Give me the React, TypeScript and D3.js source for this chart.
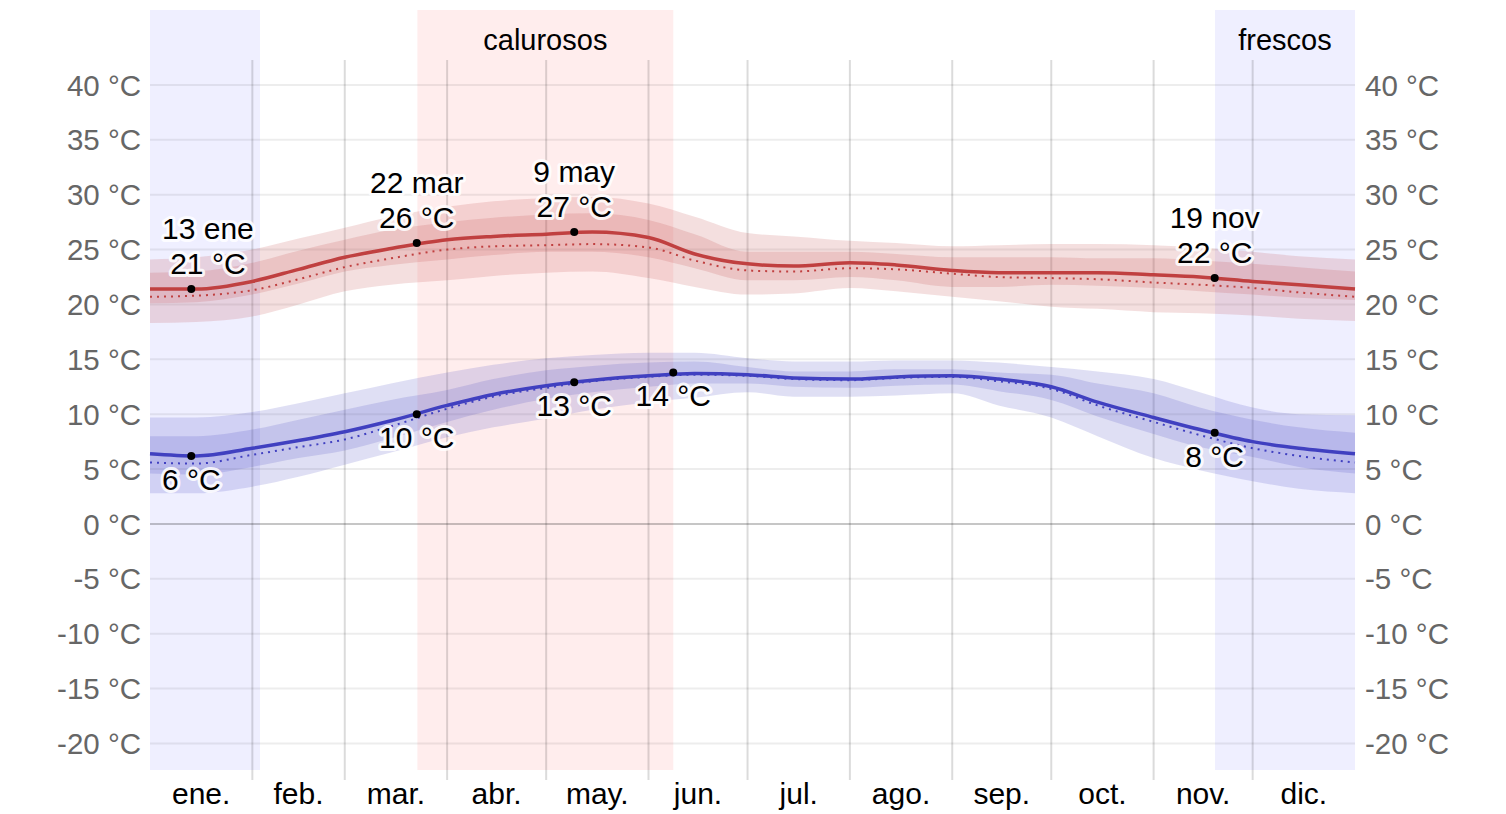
import React, { useEffect, useRef } from "react";
import * as d3 from "d3";

// day of year (0 = 1 ene) for every sample
const days = [0, 14, 31, 45, 59, 73, 90, 104, 120, 134, 151, 165, 181, 195, 212, 226, 243, 257, 273, 287, 304, 318, 334, 348, 365];

// daily high (°C)
const highAvg = [21.4, 21.4, 22.1, 23.2, 24.3, 25.1, 25.9, 26.2, 26.4, 26.6, 26.1, 24.6, 23.7, 23.5, 23.8, 23.6, 23.1, 22.9, 22.9, 22.9, 22.7, 22.5, 22.1, 21.8, 21.4];
const highMean = [20.7, 20.8, 21.3, 22.3, 23.4, 24.2, 25.0, 25.3, 25.4, 25.5, 25.2, 24.0, 23.1, 23.0, 23.3, 23.2, 22.8, 22.5, 22.4, 22.3, 22.0, 21.8, 21.5, 21.1, 20.7];
const highP75 = [22.9, 23.0, 23.8, 24.9, 25.9, 26.8, 27.5, 27.9, 28.2, 28.3, 27.7, 26.4, 24.8, 24.8, 24.8, 24.6, 24.3, 24.3, 24.3, 24.2, 24.2, 24.0, 23.7, 23.4, 23.0];
const highP25 = [20.1, 20.2, 20.9, 21.9, 23.0, 23.6, 24.1, 24.5, 24.8, 24.8, 24.3, 23.3, 22.2, 22.2, 22.5, 22.2, 21.6, 21.6, 21.8, 21.7, 21.5, 21.2, 20.9, 20.6, 20.4];
const highP90 = [24.1, 24.3, 25.0, 26.0, 27.0, 28.0, 28.9, 29.4, 29.7, 29.8, 29.2, 28.0, 26.5, 26.2, 25.8, 25.6, 25.3, 25.4, 25.5, 25.5, 25.4, 25.2, 24.8, 24.4, 24.1];
const highP10 = [18.3, 18.4, 18.9, 20.0, 21.2, 21.8, 22.2, 22.6, 22.9, 23.0, 22.4, 21.6, 20.9, 21.0, 21.5, 21.2, 20.7, 20.3, 19.8, 19.6, 19.3, 19.2, 19.0, 18.7, 18.5];

// daily low (°C)
const lowAvg = [6.4, 6.2, 6.9, 7.6, 8.4, 9.4, 10.8, 11.8, 12.6, 13.1, 13.5, 13.7, 13.6, 13.3, 13.2, 13.4, 13.5, 13.2, 12.5, 11.1, 9.7, 8.6, 7.5, 6.9, 6.4];
const lowMean = [5.6, 5.5, 6.3, 7.0, 7.7, 8.9, 10.5, 11.6, 12.4, 13.0, 13.4, 13.6, 13.5, 13.2, 13.1, 13.3, 13.4, 13.0, 12.3, 10.8, 9.3, 8.1, 6.9, 6.2, 5.6];
const lowP75 = [8.0, 8.0, 8.6, 9.5, 10.4, 11.3, 12.2, 13.2, 14.0, 14.4, 14.7, 14.8, 14.3, 13.9, 13.9, 14.1, 14.1, 13.8, 13.6, 12.8, 11.9, 10.6, 9.5, 8.8, 8.3];
const lowP25 = [4.6, 4.5, 5.2, 6.0, 6.7, 7.8, 9.3, 10.4, 11.4, 12.0, 12.5, 12.8, 12.8, 12.5, 12.4, 12.6, 12.7, 12.1, 11.3, 9.8, 8.2, 7.0, 6.1, 5.2, 4.6];
const lowP90 = [9.7, 9.7, 10.2, 11.0, 11.9, 12.8, 13.8, 14.5, 15.1, 15.4, 15.6, 15.6, 15.1, 14.8, 14.8, 14.9, 14.9, 14.7, 14.3, 13.9, 13.2, 12.0, 10.6, 10.0, 9.9];
const lowP10 = [2.8, 2.8, 3.4, 4.3, 5.4, 6.5, 7.9, 8.8, 9.6, 10.4, 11.1, 11.5, 12.0, 11.6, 11.6, 11.7, 11.9, 10.8, 9.7, 8.0, 6.0, 4.9, 3.9, 3.2, 2.8];

const monthNames = ["ene.", "feb.", "mar.", "abr.", "may.", "jun.", "jul.", "ago.", "sep.", "oct.", "nov.", "dic."];
const monthStarts = [0, 31, 59, 90, 120, 151, 181, 212, 243, 273, 304, 334, 365];

const yTicks = [-20, -15, -10, -5, 0, 5, 10, 15, 20, 25, 30, 35, 40];

// seasons: [start day, end day, label]
const hotSeason = [{ start: 81, end: 158.5, label: "calurosos" }];
const coolSeason = [
  { start: 0, end: 33.3, label: "" },
  { start: 322.6, end: 365, label: "frescos" },
];

// annotated points
const highNotes = [
  { day: 12.5, value: 21.4, date: "13 ene", temp: "21 °C" },
  { day: 80.8, value: 25.6, date: "22 mar", temp: "26 °C" },
  { day: 128.5, value: 26.6, date: "9 may", temp: "27 °C" },
  { day: 322.5, value: 22.4, date: "19 nov", temp: "22 °C" },
];
const lowNotes = [
  { day: 12.5, value: 6.2, temp: "6 °C" },
  { day: 80.8, value: 10.0, temp: "10 °C" },
  { day: 128.5, value: 12.9, temp: "13 °C" },
  { day: 158.5, value: 13.8, temp: "14 °C" },
  { day: 322.5, value: 8.3, temp: "8 °C" },
];

const W = 1506;
const H = 814;
const FONT = "'Liberation Sans', Arial, sans-serif";

const TemperatureChart = () => {
  const svgRef = useRef(null);

  useEffect(() => {
    const margin = { top: 10, right: 151, bottom: 44, left: 150 };
    const svg = d3.select(svgRef.current);
    svg.selectAll("*").remove();

    const x = d3.scaleLinear().domain([0, 365]).range([margin.left, W - margin.right]);
    const y = d3.scaleLinear().domain([-22.42, 46.83]).range([H - margin.bottom, margin.top]);
    const [x0, x1] = x.range();
    const [yb, yt] = y.range();

    // season backgrounds
    const seasons = [
      ...hotSeason.map((s) => ({ ...s, color: "#ffeded" })),
      ...coolSeason.map((s) => ({ ...s, color: "#efefff" })),
    ];
    svg
      .append("g")
      .selectAll("rect")
      .data(seasons)
      .join("rect")
      .attr("x", (d) => x(d.start))
      .attr("width", (d) => x(d.end) - x(d.start))
      .attr("y", yt)
      .attr("height", yb - yt)
      .attr("fill", (d) => d.color);

    svg
      .append("g")
      .selectAll("text")
      .data(seasons.filter((s) => s.label))
      .join("text")
      .attr("x", (d) => (x(d.start) + x(d.end)) / 2)
      .attr("y", 50)
      .attr("text-anchor", "middle")
      .attr("font-family", FONT)
      .attr("font-size", 29)
      .attr("fill", "#000")
      .text((d) => d.label);

    // horizontal grid
    svg
      .append("g")
      .selectAll("line")
      .data(yTicks)
      .join("line")
      .attr("x1", x0)
      .attr("x2", x1)
      .attr("y1", (d) => y(d))
      .attr("y2", (d) => y(d))
      .attr("stroke", (d) => (d === 0 ? "rgba(0,0,0,0.3)" : "rgba(0,0,0,0.07)"))
      .attr("stroke-width", (d) => (d === 0 ? 1.5 : 2));

    // month separators
    svg
      .append("g")
      .selectAll("line")
      .data(monthStarts.slice(1, -1))
      .join("line")
      .attr("x1", (d) => x(d))
      .attr("x2", (d) => x(d))
      .attr("y1", 60)
      .attr("y2", yb + 10)
      .attr("stroke", "rgba(0,0,0,0.14)")
      .attr("stroke-width", 2);

    // axis labels
    const yLabel = (d) => `${d} °C`;
    svg
      .append("g")
      .selectAll("text")
      .data(yTicks)
      .join("text")
      .attr("x", x0 - 9)
      .attr("y", (d) => y(d))
      .attr("dy", "0.36em")
      .attr("text-anchor", "end")
      .attr("font-family", FONT)
      .attr("font-size", 29.5)
      .attr("fill", "#666")
      .text(yLabel);
    svg
      .append("g")
      .selectAll("text")
      .data(yTicks)
      .join("text")
      .attr("x", x1 + 10)
      .attr("y", (d) => y(d))
      .attr("dy", "0.36em")
      .attr("text-anchor", "start")
      .attr("font-family", FONT)
      .attr("font-size", 29.5)
      .attr("fill", "#666")
      .text(yLabel);

    svg
      .append("g")
      .selectAll("text")
      .data(monthNames)
      .join("text")
      .attr("x", (d, i) => (x(monthStarts[i]) + x(monthStarts[i + 1])) / 2)
      .attr("y", 804)
      .attr("text-anchor", "middle")
      .attr("font-family", FONT)
      .attr("font-size", 30)
      .attr("fill", "#000")
      .text((d) => d);

    // series
    const idx = days.map((d, i) => i);
    const band = (lo, hi) =>
      d3
        .area()
        .x((i) => x(days[i]))
        .y0((i) => y(lo[i]))
        .y1((i) => y(hi[i]))
        .curve(d3.curveMonotoneX)(idx);
    const line = (vals) =>
      d3
        .line()
        .x((i) => x(days[i]))
        .y((i) => y(vals[i]))
        .curve(d3.curveMonotoneX)(idx);

    const series = [
      { color: "192,64,64", stroke: "#c04040", avg: highAvg, mean: highMean, p25: highP25, p75: highP75, p10: highP10, p90: highP90 },
      { color: "64,64,192", stroke: "#4040c0", avg: lowAvg, mean: lowMean, p25: lowP25, p75: lowP75, p10: lowP10, p90: lowP90 },
    ];
    const g = svg.append("g");
    series.forEach((s) => {
      g.append("path").attr("d", band(s.p10, s.p90)).attr("fill", `rgba(${s.color},0.17)`);
      g.append("path").attr("d", band(s.p25, s.p75)).attr("fill", `rgba(${s.color},0.17)`);
      g.append("path")
        .attr("d", line(s.mean))
        .attr("fill", "none")
        .attr("stroke", s.stroke)
        .attr("stroke-width", 2)
        .attr("stroke-dasharray", "2 5");
      g.append("path")
        .attr("d", line(s.avg))
        .attr("fill", "none")
        .attr("stroke", s.stroke)
        .attr("stroke-width", 3.5);
    });

    // annotations
    const halo = (sel) =>
      sel
        .attr("font-family", FONT)
        .attr("font-size", 30)
        .attr("text-anchor", "middle")
        .attr("fill", "#000")
        .attr("stroke", "rgba(255,255,255,0.85)")
        .attr("stroke-width", 6)
        .attr("stroke-linejoin", "round")
        .attr("paint-order", "stroke");

    const place = (texts, px) => {
      const w = d3.max(texts, (t) => t.node().getComputedTextLength());
      const cx = Math.max(x0 + w / 2 + 12, Math.min(x1 - w / 2 - 12, px));
      texts.forEach((t) => t.attr("x", cx));
    };

    const ag = svg.append("g");
    highNotes.forEach((n) => {
      const px = x(n.day);
      const py = y(n.value);
      const t1 = ag.append("text").attr("y", py - 50).call(halo).text(n.date);
      const t2 = ag.append("text").attr("y", py - 15).call(halo).text(n.temp);
      place([t1, t2], px);
    });
    lowNotes.forEach((n) => {
      const px = x(n.day);
      const py = y(n.value);
      const t = ag.append("text").attr("y", py + 34).call(halo).text(n.temp);
      place([t], px);
    });
    ag.selectAll("circle")
      .data([...highNotes, ...lowNotes])
      .join("circle")
      .attr("cx", (d) => x(d.day))
      .attr("cy", (d) => y(d.value))
      .attr("r", 4)
      .attr("fill", "#000");
  }, []);

  return (
    <svg
      ref={svgRef}
      width={W}
      height={H}
      style={{ position: "absolute", left: 0, top: 0, background: "#fff" }}
    />
  );
};

export default function App() {
  return <TemperatureChart />;
}
